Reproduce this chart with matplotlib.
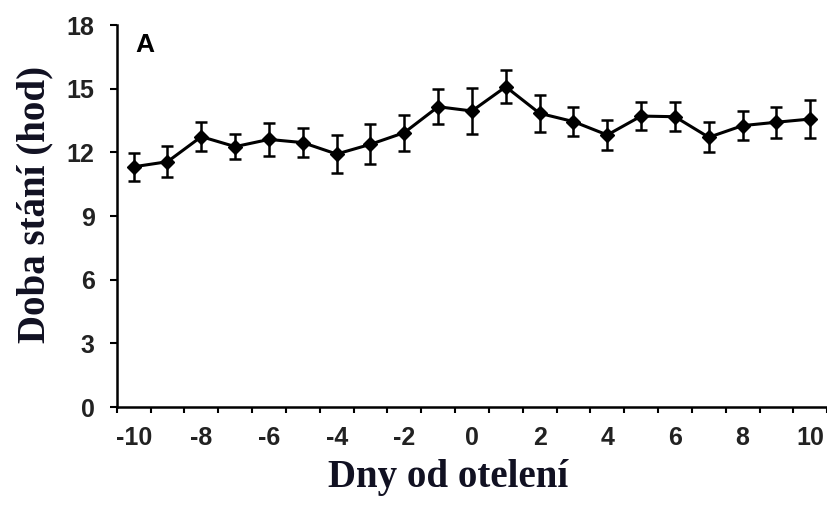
import numpy as np
import matplotlib
matplotlib.use("Agg")
import matplotlib.pyplot as plt

# days relative to calving and standing time (hours) with SE
days = [-10, -9, -8, -7, -6, -5, -4, -3, -2, -1, 0, 1, 2, 3, 4, 5, 6, 7, 8, 9, 10]
stand = [11.32, 11.56, 12.74, 12.27, 12.61, 12.46, 11.92, 12.38, 12.93, 14.15, 13.95,
         15.09, 13.84, 13.45, 12.82, 13.71, 13.68, 12.71, 13.26, 13.42, 13.57]
err = [0.65, 0.72, 0.68, 0.6, 0.77, 0.7, 0.9, 0.94, 0.85, 0.83, 1.07,
       0.77, 0.88, 0.68, 0.69, 0.66, 0.68, 0.71, 0.69, 0.73, 0.9]
xlabels = [-10, -8, -6, -4, -2, 0, 2, 4, 6, 8, 10]
yticks = [0, 3, 6, 9, 12, 15, 18]

plt.rcParams["font.family"] = "Liberation Sans"
plt.rcParams["font.weight"] = "bold"

fig = plt.figure(figsize=(8.28, 5.11), dpi=100)
ax = fig.add_axes([0.141, 0.2035, 0.858, 0.7475])

ax.errorbar(days, stand, yerr=err, color="black", lw=2.2, marker="D", ms=7,
            elinewidth=1.8, capsize=4.5, capthick=1.8)

ax.set_xlim(-10.5, 10.5)
ax.set_ylim(0, 18)
ax.spines["top"].set_visible(False)
ax.spines["right"].set_visible(False)
for s in ("left", "bottom"):
    ax.spines[s].set_linewidth(1.8)

# category-style axis: ticks between days, labels on even days
ax.set_xticks(np.arange(-10.5, 11, 1.0))
ax.set_xticklabels([])
ax.tick_params(axis="x", which="major", direction="out", length=4.5, width=1.5)
ax.set_xticks(xlabels, minor=True)
ax.set_xticklabels([str(v) for v in xlabels], minor=True)
ax.tick_params(axis="x", which="minor", length=0, pad=14, labelsize=18,
               labelcolor="#222222")

ax.set_yticks(yticks)
ax.tick_params(axis="y", direction="out", length=5, width=1.5, pad=11,
               labelsize=18, labelcolor="#222222")

ax.text(0.026, 0.98, "A", transform=ax.transAxes, ha="left", va="top",
        fontsize=19, fontweight="bold")

fig.text(0.541, 0.065, "Dny od otelení", ha="center", va="center",
         fontsize=28, fontweight="bold", family="Liberation Serif", color="#111122")
fig.text(0.042, 0.6, "Doba stání (hod)", ha="center", va="center", rotation=90,
         fontsize=28, fontweight="bold", family="Liberation Serif", color="#111122")

fig.savefig("out.png", dpi=100)
